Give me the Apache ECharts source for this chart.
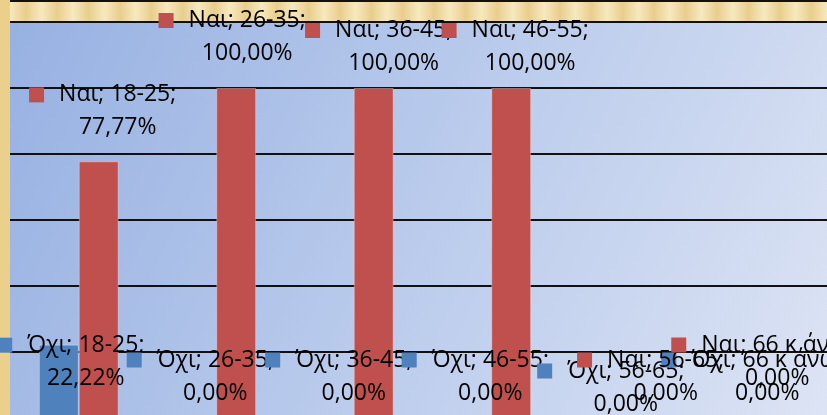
<!DOCTYPE html>
<html>
<head>
<meta charset="utf-8">
<script src="https://cdn.jsdelivr.net/npm/echarts@6/dist/echarts.min.js"></script>
<style>
  html, body { margin: 0; padding: 0; }
  #chart { width: 827px; height: 415px; }
</style>
</head>
<body>
<div id="chart"></div>
<script>
const categories = ['18-25', '26-35', '36-45', '46-55', '56-65', '66 κ άνω'];
const noValues = [22.22, 0, 0, 0, 0, 0];
const yesValues = [77.77, 100, 100, 100, 0, 0];
const seriesNames = ['Όχι', 'Ναι'];
const colors = ['#4F81BD', '#C0504D'];

// where Excel left each data label, relative to the top of its bar
const noLabelShift = [[12, 50], [4, -8], [5, -8], [4, -8], [2, 3], [6, -8]];
const yesLabelShift = [[4, -17], [-4, -18], [5, -8], [4, -8], [2, -8], [-24, -23]];

function fmt(v) {
  return v.toFixed(2).replace('.', ',') + '%';
}

function makeData(values, shifts) {
  return values.map((v, i) => ({
    value: v,
    label: { offset: shifts[i] }
  }));
}

function labelFor(idx) {
  return {
    show: true,
    position: 'top',
    distance: 0,
    formatter: p => '{sq|}{g|}{t|' + seriesNames[idx] + '; ' + p.name + ';}\n{pad|}{t|' + fmt(p.value) + '}',
    rich: {
      sq: { width: 15, height: 15, backgroundColor: colors[idx] },
      g: { width: 15 },
      pad: { width: 30 },
      t: { fontFamily: 'Open Sans', fontSize: 23, color: '#000', lineHeight: 33 }
    }
  };
}

const goldStops = [];
for (let i = 0; i <= 52; i++) {
  goldStops.push({ offset: i / 52, color: i % 2 ? '#E8CE8C' : '#F7E9BE' });
}

const chart = echarts.init(document.getElementById('chart'));
chart.setOption({
  animation: false,
  backgroundColor: '#EAD08A',
  grid: {
    left: 10,
    width: 825,
    top: 22,
    height: 396,
    outerBoundsMode: 'none',
    show: true,
    borderWidth: 0,
    backgroundColor: new echarts.graphic.LinearGradient(0, 0, 1, 1, [
      { offset: 0, color: '#97B1E2' },
      { offset: 0.5, color: '#BACBEC' },
      { offset: 1, color: '#DDE4F4' }
    ])
  },
  xAxis: {
    type: 'category',
    data: categories,
    axisLine: { show: false },
    axisTick: { show: false },
    axisLabel: { show: false }
  },
  yAxis: {
    type: 'value',
    min: 0,
    max: 120,
    interval: 20,
    axisLabel: { show: false },
    splitLine: { lineStyle: { color: '#111', width: 2 } }
  },
  graphic: [
    {
      type: 'rect',
      left: 10,
      top: 0,
      shape: { width: 817, height: 21 },
      style: { fill: new echarts.graphic.LinearGradient(0, 0, 1, 0, goldStops) },
      z: -1
    },
    {
      type: 'rect',
      left: 10,
      top: 0,
      shape: { width: 817, height: 2 },
      style: { fill: '#111' }
    }
  ],
  series: [
    {
      name: seriesNames[0],
      type: 'bar',
      barGap: '0%',
      barCategoryGap: '42%',
      data: makeData(noValues, noLabelShift),
      itemStyle: { color: colors[0], borderColor: 'rgba(255,255,255,0.3)', borderWidth: 1 },
      label: labelFor(0)
    },
    {
      name: seriesNames[1],
      type: 'bar',
      barGap: '0%',
      barCategoryGap: '42%',
      data: makeData(yesValues, yesLabelShift),
      itemStyle: { color: colors[1], borderColor: 'rgba(255,255,255,0.3)', borderWidth: 1 },
      label: labelFor(1)
    }
  ]
});
</script>
</body>
</html>
